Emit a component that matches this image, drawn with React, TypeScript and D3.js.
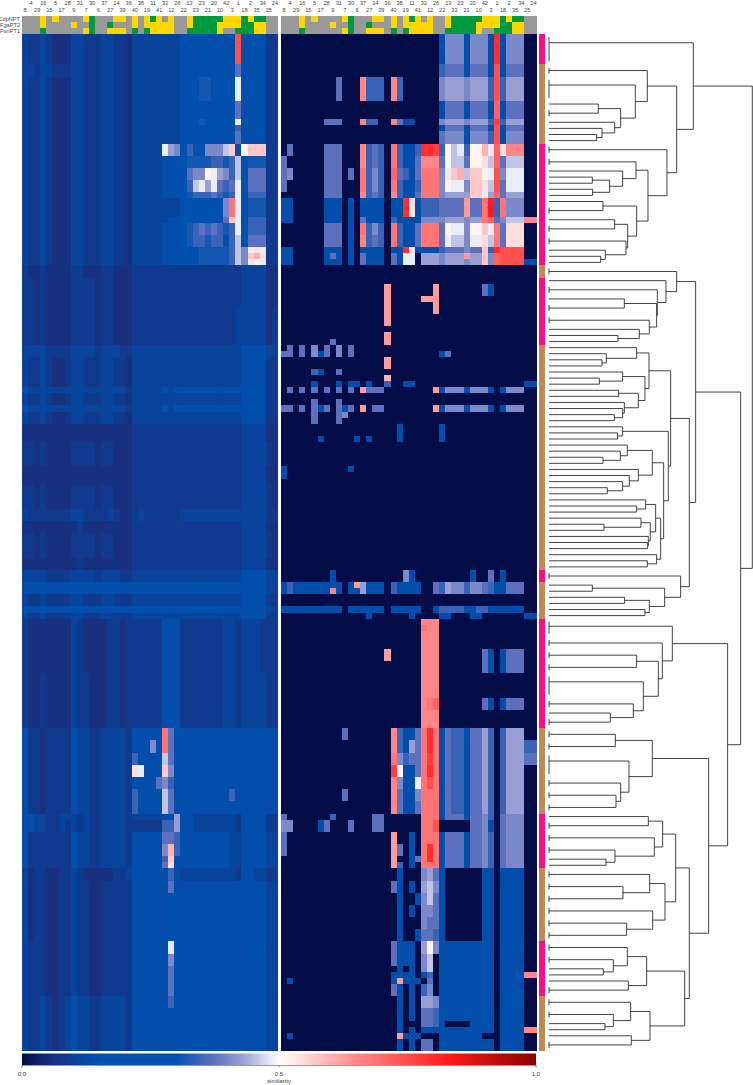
import * as d3 from "d3";

// column order of the clustered heatmap (same for both panels)
const columns = [8, 4, 29, 16, 15, 5, 17, 28, 9, 31, 7, 30, 6, 37, 27, 14, 39, 36, 40, 38, 19, 11, 41, 32, 12, 26, 22, 13, 33, 23, 21, 20, 10, 42, 3, 1, 18, 2, 35, 34, 25, 24];

const trackNames = ["CdpNPT", "FgaPT2", "FtmPT1"];
const trackCalls = [
  "GGGYGY GGGGYV GGGYYG YGYVYG YGGYVV VVVYYY VYVVGG",
  "GGGYGG GGYGGV GGVGGG YGYYYY YGGYVV VVYYYY VVYYGG",
  "GGGVGG GGGGYV GGYYYG VGVYYY YGGVVV VVYGGV VVYYGG",
];

// row groups at the right hand side: number of rows per coloured segment
const groupSizes = [5, 13, 20, 2, 11, 37, 2, 6, 18, 14, 9, 12, 9, 9];

// each band: [number of rows, similarity per column in base 36 (level / 35)]
const Z = "000000";
const leftBands: [number, string][] = [
  [5, "433432 224433 344332 444444 445556 55555q 555633"],
  [2, "443443 334433 344332 444444 445556 55555d 555633"],
  [4, "433432 224433 344332 444444 4458ab b8769h 555633"],
  [3, "433432 224433 344332 444444 445556 55556d 555633"],
  [1, "433432 224433 344332 444444 44569b a8779h 555733"],
  [1, "433432 224433 344332 444444 445556 55555c 555633"],
  [2, "433432 224433 344332 444444 445567 66556d 555633"],
  [2, "433432 224433 344332 44444h fe7ca7 eeegk5 ikkk33"],
  [2, "433432 224433 344332 444445 558bbb bccbcg 5bbb33"],
  [2, "433432 224433 344332 444445 558dee ihfecg 6ddd33"],
  [2, "433432 224433 344332 444445 558cgh fhdcdh 6ddd33"],
  [1, "433432 224433 344332 444445 558bcc cdcbch 6ccc33"],
  [3, "433432 224433 344332 444444 446667 788eoh 5bbb33"],
  [1, "433432 224433 344332 444444 557899 88adkh 6ccc33"],
  [2, "433432 224433 344332 444445 558bcd cdcbch 6ccc33"],
  [2, "433432 224433 344332 444445 558bcc bccacg 6ddd33"],
  [1, "433432 224433 344332 444445 558aab bbbbcg ehjh33"],
  [1, "433432 224433 344332 444445 558aab bbbbcg eklj33"],
  [1, "433432 224433 344332 444445 558aab bbbbcg ehih33"],
  [2, "322322 223322 233222 333333 333333 333333 444422"],
  [5, "332322 223333 233222 333333 333333 333333 444422"],
  [6, "332322 223333 233222 333333 333333 333334 444423"],
  [2, "444433 334444 344433 444444 444444 444444 555544"],
  [5, "433432 234433 344332 444444 444444 444444 555533"],
  [1, "544444 444444 444443 444445 456778 775766 577733"],
  [2, "433432 234433 344332 444444 444444 444444 555533"],
  [1, "544444 444444 444443 444445 456778 775766 577733"],
  [2, "433432 234433 344332 444444 444444 444444 555533"],
  [3, "222222 222222 222222 333333 333333 333333 444422"],
  [4, "332322 223333 233222 333333 333333 333333 444432"],
  [3, "222222 222222 222222 333333 333333 333333 444422"],
  [4, "332322 223333 233222 333333 333333 333333 444432"],
  [2, "433333 334433 334322 343333 334444 444444 444433"],
  [2, "222222 222322 222222 333333 333333 333333 444422"],
  [4, "332322 223333 233222 333333 333333 333333 444432"],
  [2, "222222 222322 222222 333333 333333 333333 444422"],
  [2, "444433 334444 344433 444444 444444 444444 555544"],
  [2, "555555 555555 555555 555555 555566 665555 655544"],
  [2, "433433 334433 344333 444444 444444 444444 555533"],
  [1, "555555 555555 555555 555555 555566 665555 555544"],
  [1, "433433 334433 344333 444444 444444 444444 555533"],
  [9, "322222 224322 223323 333335 553333 333443 444333"],
  [9, "322322 224332 223323 333335 553333 333443 444433"],
  [2, "533233 335443 344443 55555o d55555 555555 555555"],
  [2, "533233 335443 344443 555e5o d55555 555555 555555"],
  [2, "533233 335443 344443 c5555g d55555 555555 555555"],
  [2, "533233 335443 344443 jh555k e55555 555555 555555"],
  [2, "533233 335443 344443 6555de c55555 555555 555555"],
  [2, "533233 335443 344443 c5555g d55555 5555c5 555555"],
  [2, "533233 335443 344443 c5555g d55555 555555 555555"],
  [1, "554433 444343 344443 444445 5f5544 444443 555533"],
  [2, "554433 434343 344443 33333c cf5544 444443 555533"],
  [2, "533333 335443 344443 55555d dc5555 555544 555544"],
  [2, "533333 335443 344443 55555e lc5555 555544 555544"],
  [1, "533333 335443 344443 55555c k55555 555544 555544"],
  [1, "533333 335443 344443 55555d j55555 555544 555544"],
  [2, "423322 334322 222334 555555 c54444 444443 554433"],
  [2, "423322 334332 233333 555555 d55555 555555 555544"],
  [4, "423322 334332 233333 555555 a55555 555555 555544"],
  [4, "423322 334332 233333 555555 655555 555555 555544"],
  [2, "433322 334332 233333 555556 h65555 555555 566644"],
  [2, "433322 334332 233333 555555 e55555 555555 555544"],
  [5, "433322 334332 233333 555555 d55555 555555 555544"],
  [2, "433432 345443 344443 555555 c55555 555555 555544"],
  [7, "433432 345443 344443 555555 555555 555555 555544"],
];

const rightBands: [number, string][] = [
  [5, `${Z} ${Z} ${Z} ${Z} 005eee 5eee5s 5eee00`],
  [2, `${Z} ${Z} ${Z} ${Z} 00cddd 5ddd5q 5ddd00`],
  [4, `${Z} 000d00 0nccc0 nc0000 00efff efffcq cfff00`],
  [3, `${Z} ${Z} ${Z} ${Z} 005ddd 5ddd5p 5ddd00`],
  [1, `${Z} 0ddd00 0ncc00 nd5500 00efff efffcr cfff00`],
  [1, `${Z} ${Z} ${Z} ${Z} 005ddd 5ddd5q 5ddd00`],
  [2, `${Z} ${Z} ${Z} ${Z} 00deee 5eeecq 5eee00`],
  [2, `0d0000 0ddd00 0ncdc0 oc55cs srcigh ciilhp jnnn00`],
  [2, `d00000 0ddd00 0ncdc0 oc55dn nndigg diijgp dggg00`],
  [2, `de0000 0ddd0d 0ocec0 pdc5do ooehkl gkkihq ehhh00`],
  [2, `d00000 0ddd00 0ocec0 oc55co ooeihh ekkjgq dhhh00`],
  [1, `${Z} 0ddd00 0ncdc0 nc55do ooefff fkkhfp dfff00`],
  [3, `550000 055505 055550 55sj5c ccdddd mddotc oeee00`],
  [1, `550000 055505 0d5850 c5555e eeefff effopd egggnn`],
  [2, `${Z} 0ddd05 0ocec0 oc55do oodihh eiikho djjj00`],
  [2, `${Z} 0ddd05 0ncdc0 oc55do oodhgg ehhjgo djjj00`],
  [1, `550000 055505 055550 55sj55 55cddd eddkcs qqqq00`],
  [1, `550000 05d505 0d5550 d5hh0f ffefff mffkep qqqq00`],
  [1, `550000 055505 0d5550 d5hh0f ffefff effkep qqqq55`],
  [3, `${Z} ${Z} ${Z} ${Z} ${Z} ${Z} ${Z}`],
  [2, `${Z} ${Z} 00000m ${Z} 0m0000 000d50 ${Z}`],
  [1, `${Z} ${Z} 00000m 00000m mm0000 ${Z} ${Z}`],
  [2, `${Z} ${Z} 00000m ${Z} 0m0000 ${Z} ${Z}`],
  [2, `${Z} ${Z} 00000m ${Z} ${Z} ${Z} ${Z}`],
  [1, `${Z} ${Z} ${Z} ${Z} ${Z} ${Z} ${Z}`],
  [1, `${Z} ${Z} 00000m ${Z} ${Z} ${Z} ${Z}`],
  [1, `${Z} 00d000 00000m ${Z} ${Z} ${Z} ${Z}`],
  [1, `0d0d0e 0d0e0d ${Z} ${Z} ${Z} ${Z} ${Z}`],
  [1, `dd0d0e 5d0e0d ${Z} ${Z} 005d00 ${Z} ${Z}`],
  [2, `${Z} ${Z} 00000m ${Z} ${Z} ${Z} ${Z}`],
  [1, `00000c 500d00 ${Z} ${Z} ${Z} ${Z} ${Z}`],
  [1, `${Z} ${Z} 00000l ${Z} ${Z} ${Z} ${Z}`],
  [1, `000005 000505 50500c 005500 ${Z} ${Z} 000055`],
  [1, `0d0d0d 0d0d0d 0mddd0 ${Z} 0m5eee 5eee50 5eee00`],
  [1, `${Z} ${Z} ${Z} ${Z} ${Z} ${Z} ${Z}`],
  [1, `00000d 000d00 ${Z} ${Z} ${Z} ${Z} ${Z}`],
  [1, `dd0d0d 5d0d5d 0m0dd0 ${Z} 0m5eee 5eee50 5eee00`],
  [1, `00000d 000de0 ${Z} ${Z} ${Z} ${Z} ${Z}`],
  [1, `00000d 000d00 ${Z} ${Z} ${Z} ${Z} ${Z}`],
  [2, `${Z} ${Z} ${Z} 050000 005000 ${Z} ${Z}`],
  [1, `${Z} 500000 505000 050000 005000 ${Z} ${Z}`],
  [4, `${Z} ${Z} ${Z} ${Z} ${Z} ${Z} ${Z}`],
  [1, `500000 000005 ${Z} ${Z} ${Z} ${Z} ${Z}`],
  [1, `500000 ${Z} ${Z} ${Z} ${Z} ${Z} ${Z}`],
  [15, `${Z} ${Z} ${Z} ${Z} ${Z} ${Z} ${Z}`],
  [2, `${Z} 005000 ${Z} 00e500 ${Z} 0500d0 500000`],
  [1, `5c5555 555505 mf5a50 c55550 0dcfee ceedc5 5ddd00`],
  [1, `5c5555 55n505 5f5a50 c55550 0dcfee ceedc5 5ddd00`],
  [2, `${Z} ${Z} ${Z} ${Z} ${Z} ${Z} ${Z}`],
  [1, `555555 555505 555550 555550 05cccc 55cc55 555500`],
  [1, `${Z} ${Z} 005000 000500 005500 055000 000055`],
  [1, `${Z} ${Z} ${Z} 00000n nn0000 ${Z} ${Z}`],
  [1, `${Z} ${Z} ${Z} 00000o nn0000 ${Z} ${Z}`],
  [3, `${Z} ${Z} ${Z} 00000n nn0000 ${Z} ${Z}`],
  [2, `${Z} ${Z} 00000m 00000n nn0000 000d50 5ddd00`],
  [2, `${Z} ${Z} ${Z} 00000n nn0000 000d50 5ddd00`],
  [4, `${Z} ${Z} ${Z} 00000n nn0000 ${Z} ${Z}`],
  [2, `${Z} ${Z} ${Z} 00000n op0000 000d50 5ddd00`],
  [3, `${Z} ${Z} ${Z} 00000n nn0000 ${Z} ${Z}`],
  [2, `${Z} 0000d0 ${Z} nc55do so5dcc 5ddfc0 cfff00`],
  [2, `${Z} ${Z} ${Z} nc5fdo so5dcc 5ddfc0 cfffcc`],
  [2, `${Z} ${Z} ${Z} oecddo ro5dcc 5ddfc0 cfffdd`],
  [2, `${Z} ${Z} ${Z} ri55do so5dcc 5ddfc0 cfff00`],
  [2, `${Z} ${Z} ${Z} ne55ho qo5dcc 5ddfc0 cfff00`],
  [2, `${Z} 0000d0 ${Z} nd55eo oo5dcc 5ddfc0 cfff00`],
  [2, `${Z} ${Z} ${Z} nd55do oo5dcc 5ddfc0 cfff00`],
  [1, `d00000 00c000 000dd0 00000o oo5ddd 5ddec0 deee00`],
  [2, `ee0000 5d000d 000dd0 00000o oq0000 0dde50 deee00`],
  [2, `d00000 ${Z} ${Z} m0050o oo5ddd 5ddec0 deee00`],
  [2, `d00000 ${Z} ${Z} md050o so5ddd 5ddec0 deee00`],
  [1, `${Z} ${Z} ${Z} m005do so5ddd 5ddec0 deee00`],
  [1, `${Z} ${Z} ${Z} mc050o oo5ddd 5ddec0 deee00`],
  [2, `${Z} ${Z} ${Z} 05000e fd5000 000550 555500`],
  [2, `${Z} ${Z} ${Z} d5050f ge5000 000550 555500`],
  [2, `${Z} ${Z} ${Z} 05005e gd5000 000550 555500`],
  [2, `${Z} ${Z} ${Z} 05050e ed5000 000550 555500`],
  [2, `${Z} ${Z} ${Z} 05000e dd5000 000550 555500`],
  [2, `${Z} ${Z} ${Z} 05005d dc5000 000550 555500`],
  [2, `${Z} ${Z} ${Z} d5550f ie5555 555a50 5aaa00`],
  [2, `${Z} ${Z} ${Z} d5550e g05555 555a50 555500`],
  [1, `${Z} ${Z} ${Z} 05050e g05555 555550 555500`],
  [1, `${Z} ${Z} ${Z} 555505 c05555 555a50 5555nn`],
  [1, `050000 ${Z} ${Z} 5m5550 d05555 555550 555500`],
  [2, `${Z} ${Z} ${Z} d5050c e05555 555550 555500`],
  [2, `${Z} ${Z} ${Z} 05050f fe5555 555a50 5aaa00`],
  [2, `${Z} ${Z} ${Z} 05050d dc5555 555a50 555500`],
  [1, `${Z} ${Z} ${Z} 05000d dc5000 055550 555500`],
  [1, `${Z} ${Z} ${Z} 050505 555555 555a50 5555nn`],
  [1, `050000 ${Z} ${Z} 0m5550 005555 555000 555500`],
  [2, `${Z} ${Z} ${Z} 05050d d05555 555550 555500`],
];

// dendrogram: [merge distance, child, child]; a bare number is a run of n identical rows
type Tree = number | [number, Tree, Tree];
const treeTop: Tree = [433, 5, [383,
  [295, 2, [259, 4, [215, [148, 1, 2], [197, 1, [159, 1, [143, 1, 1]]]]]],
  [354, 2, [297,
    [261, 2, [221, 1, [182, [130, 1, 1], [131, 1, 1]]]],
    [263, [162, 1, 2], [236, [197, 1, 2], [231, 2, [169, 1, [155, 1, 1]]]]],
  ]],
]];
const treeMiddle: Tree = [440,
  [383, 2, [351, 1, [325, 2, [323, [226, 1, 2], [301, 2, [271, 1, [207, 1, 1]]]]]]],
  [421,
    [365,
      [300,
        [263, 1, [172, 1, [159, 1, 1]]],
        [288, [221, 1, [151, 1, 1]], [268, [209, 1, 1], [226, 1, [221, 1, [196, 1, 1]]]]],
      ],
      [358, [221, 1, [206, 1, 1]], [344,
        [310, [235, 1, [214, 1, [162, 1, 1]]], [268, 1, [241, 1, [221, 1, [175, 1, 1]]]]],
        [335,
          [320, [290, 1, [263, 1, 1]], [304, [276, 1, [165, 1, 1]], [298, 1, [296, 1, 1]]]],
          [323, 1, [295, 1, 1]],
        ],
      ]],
    ],
    [395, 2, [347, [130, 1, 1], [301, [227, 1, 1], [288, 1, 1]]]],
  ],
];
const treeBottom: Tree = [536,
  [370, 3, [340, 2, [328, [263, 2, 2], [283, 4, [253, 2, [184, 1, 2]]]]]],
  [479,
    [310, [199, 2, 2], [240, 4, [215, 2, [201, 2, 2]]]],
    [421,
      [380,
        [341, [298, 1, 2], [316, 2, [198, 2, [171, 1, 1]]]],
        [348, [302, 2, [222, 2, 2]], [311, 2, [233, 2, 2]]],
      ],
      [407,
        [293, [235, 2, [193, 2, [163, 1, 1]]], [238, 1, 2]],
        [303, [245, 2, [193, 2, [168, 1, 1]]], [247, 1, 2]],
      ],
    ],
  ],
];
const dendrogram: Tree = [610, treeTop, [575, treeMiddle, treeBottom]];

const colorTicks = [0, 0.5, 1];
const colorStops = [0, 0.057, 0.15, 0.3, 0.37, 0.43, 0.5, 0.65, 0.83, 1];
const colorRange = ["#050d48", "#17307f", "#0051ae", "#0051ae", "#5c6fbc", "#9aa0d5", "#ffffff", "#ff8a8a", "#ff1a1a", "#8b0000"];

const trackColors: Record<string, string> = { G: "#999999", Y: "#ffd700", V: "#009a3e" };
const groupColors = ["#ff0a8c", "#c08a50"];

const WIDTH = 753;
const HEIGHT = 1085;
const ROWS = 167;

const color = d3.scaleLinear<string>().domain(colorStops).range(colorRange).clamp(true);
const xLeft = d3.scaleBand<number>().domain(d3.range(columns.length)).range([22, 278]);
const xRight = d3.scaleBand<number>().domain(d3.range(columns.length)).range([281, 536.5]);
const yRow = d3.scaleBand<number>().domain(d3.range(ROWS + 1)).range([34, 34 + 6.09 * (ROWS + 1)]);
const xColor = d3.scaleLinear().domain([0, 1]).range([22, 536]);
const xDist = d3.scaleLinear().domain([0, 610]).range([549, 752.3]);
const rowMid = (r: number) => (yRow(r) as number) + yRow.bandwidth() / 2;
const yTrack = d3.scaleBand<number>().domain([0, 1, 2]).range([16, 34]);
const font = "'Liberation Sans', Arial, sans-serif";

// walk the tree, return the y of each node and collect its path
function layout() {
  const paths: string[] = [];
  let next = 0;
  const walk = (node: Tree): { y: number; x: number } => {
    if (typeof node === "number") {
      const first = next;
      next += node;
      const chain = (r: number): number =>
        r === first + node - 1 ? rowMid(r) : (rowMid(r) + chain(r + 1)) / 2;
      if (node > 1) {
        paths.push(`M${xDist(0)},${rowMid(first)}V${rowMid(first + node - 1)}`);
      }
      return { y: chain(first), x: xDist(0) };
    }
    const [dist, a, b] = node;
    const top = walk(a);
    const bottom = walk(b);
    const x = xDist(dist);
    paths.push(`M${top.x},${top.y}H${x}V${bottom.y}H${bottom.x}`);
    return { y: (top.y + bottom.y) / 2, x };
  };
  walk(dendrogram);
  return paths;
}

function Panel({ bands, x }: { bands: [number, string][]; x: d3.ScaleBand<number> }) {
  let row = 0;
  return (
    <g shapeRendering="crispEdges">
      {bands.map(([n, cells], i) => {
        const start = row;
        row += n;
        const values = cells.replace(/ /g, "").split("").map((c) => parseInt(c, 36) / 35);
        return values.map((v, c) => (
          <rect
            key={`${i}-${c}`}
            x={x(c)}
            y={yRow(start)}
            width={x.bandwidth() + 0.3}
            height={yRow.step() * n + 0.3}
            fill={color(v)}
          />
        ));
      })}
    </g>
  );
}

function Header({ x }: { x: d3.ScaleBand<number> }) {
  return (
    <g>
      {columns.map((name, c) => (
        <text
          key={c}
          x={(x(c) as number) + x.bandwidth() / 2}
          y={c % 2 ? 4.5 : 12}
          fontSize={5.6}
          textAnchor="middle"
          fill="#444"
        >
          {name}
        </text>
      ))}
      <g shapeRendering="crispEdges">
        {trackCalls.map((calls, t) =>
          calls.replace(/ /g, "").split("").map((k, c) => (
            <rect
              key={`${t}-${c}`}
              x={x(c)}
              y={yTrack(t)}
              width={x.bandwidth() + 0.3}
              height={yTrack.bandwidth()}
              fill={trackColors[k]}
            />
          ))
        )}
      </g>
    </g>
  );
}

export default function App() {
  const paths = layout();
  const starts = d3.cumsum([0, ...groupSizes]);
  const gradient = d3.range(0, 1.001, 0.02);
  return (
    <svg
      width={WIDTH}
      height={HEIGHT}
      viewBox={`0 0 ${WIDTH} ${HEIGHT}`}
      style={{ position: "absolute", left: 0, top: 0, background: "#fff" }}
      fontFamily={font}
    >
      <defs>
        <linearGradient id="similarity">
          {gradient.map((t) => (
            <stop key={t} offset={t} stopColor={color(t)} />
          ))}
        </linearGradient>
      </defs>

      {trackNames.map((name, t) => (
        <text
          key={name}
          x={20}
          y={(yTrack(t) as number) + yTrack.bandwidth() / 2 + 2}
          fontSize={5.6}
          textAnchor="end"
          fill="#444"
        >
          {name}
        </text>
      ))}
      <Header x={xLeft} />
      <Header x={xRight} />
      <Panel bands={leftBands} x={xLeft} />
      <Panel bands={rightBands} x={xRight} />

      <g shapeRendering="crispEdges">
        {groupSizes.map((n, i) => (
          <rect
            key={i}
            x={539}
            y={yRow(starts[i])}
            width={6.3}
            height={yRow.step() * n}
            fill={groupColors[i % 2]}
          />
        ))}
      </g>

      <g fill="none" stroke="#222" strokeWidth={0.85}>
        {paths.map((d, i) => (
          <path key={i} d={d} />
        ))}
      </g>

      <rect x={xColor(0)} y={1053.5} width={xColor(1) - xColor(0)} height={11.5} fill="url(#similarity)" />
      <path d={`M${xColor(0)},1067V1065.5H${xColor(1)}V1067`} fill="none" stroke="#555" strokeWidth={0.6} />
      {colorTicks.map((t) => (
        <g key={t}>
          <line x1={xColor(t)} x2={xColor(t)} y1={1065.5} y2={1067.5} stroke="#555" strokeWidth={0.6} />
          <text x={xColor(t)} y={1075.5} fontSize={6.2} textAnchor="middle" fill="#444">
            {t.toFixed(1)}
          </text>
        </g>
      ))}
      <text x={xColor(0.5)} y={1082.5} fontSize={6.2} textAnchor="middle" fill="#444">
        similarity
      </text>
    </svg>
  );
}
